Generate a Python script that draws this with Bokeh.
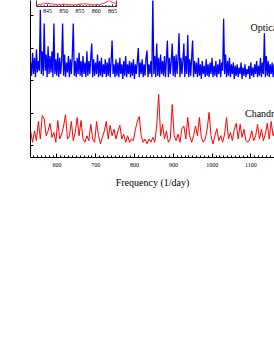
import numpy as np
from bokeh.plotting import figure
from bokeh.models import Range1d, SingleIntervalTicker, FixedTicker, Label
from bokeh.core.properties import value
from bokeh.embed import file_html
from bokeh.resources import INLINE

# ---------------- data ----------------
freq_start = 532.0          # 1/day
blue_step = 2.5             # frequency spacing of the optical periodogram
red_step = 5.0              # frequency spacing of the Chandra periodogram
optical_offset = 2.0        # optical trace is shifted up by this many power units

optical_power = [
    0.55, 0.15, 0.85, 0.2, 0.7, 0.1, 0.95, 0.25, 0.6, 0.3,
    2.18, 0.2, 0.9, 0.15, 1.75, 0.3, 0.8, 0.1, 1.05, 0.2,
    0.75, 0.25, 0.9, 0.1, 1.75, 0.2, 0.65, 0.15, 0.85, 0.1,
    0.7, 0.2, 0.6, 1.75, 0.15, 0.8, 0.1, 0.55, 0.25, 0.75,
    0.1, 0.65, 0.2, 0.8, 1.75, 0.15, 0.6, 0.1, 0.7, 0.2,
    0.85, 0.15, 0.6, 0.1, 0.75, 0.2, 0.55, 0.1, 0.9, 0.15,
    0.6, 0.2, 0.7, 1.14, 0.1, 0.65, 0.15, 0.55, 0.2, 0.8,
    0.1, 0.6, 0.15, 0.7, 0.1, 0.5, 0.2, 0.65, 0.1, 0.55,
    0.15, 0.7, 0.1, 0.6, 1.23, 0.2, 0.5, 0.1, 0.65, 0.15,
    0.55, 0.1, 0.7, 0.2, 0.5, 0.05, 0.6, 0.15, 0.75, 0.1,
    0.5, 0.2, 0.6, 0.1, 0.55, 0.15, 0.65, 0.05, 0.5, 0.2,
    0.6, 1.0, 0.1, 0.55, 0.2, 0.65, 0.1, 0.5, 0.15, 0.7,
    0.92, 0.1, 0.5, 0.2, 0.6, 0.1, 2.6, 0.2, 0.75, 0.1,
    1.14, 0.15, 0.7, 0.1, 0.8, 0.2, 0.6, 0.15, 0.75, 0.1,
    0.65, 1.23, 0.1, 0.7, 0.2, 0.6, 1.14, 0.15, 0.75, 0.1,
    0.8, 0.2, 0.65, 1.45, 0.1, 0.7, 0.2, 0.6, 1.14, 0.1,
    0.75, 0.2, 1.4, 0.1, 0.65, 0.15, 0.7, 1.23, 0.1, 0.6,
    0.2, 0.55, 0.1, 0.7, 0.15, 0.5, 0.05, 0.6, 0.2, 0.45,
    0.1, 0.65, 0.15, 0.5, 0.1, 0.55, 0.2, 0.7, 0.1, 0.45,
    0.15, 0.6, 0.1, 0.5, 0.2, 0.65, 0.1, 0.55, 0.3, 1.9,
    0.2, 0.8, 0.1, 0.6, 0.15, 0.7, 0.1, 0.5, 0.2, 0.55,
    0.05, 0.45, 0.15, 0.5, 0.1, 0.4, 0.2, 0.55, 0.05, 0.4,
    0.15, 0.5, 0.1, 0.35, 0.2, 0.45, 0.05, 0.55, 0.15, 0.4,
    0.1, 0.5, 0.2, 0.6, 0.1, 0.45, 0.15, 0.7, 0.1, 0.55,
    0.2, 1.45, 0.1, 0.75, 0.15, 0.6, 0.1, 0.5, 0.2, 0.55,
    0.1, 0.5, 0.2,
]

chandra_power = [
    0.45, 0.1, 0.45, 0.15, 0.74, 0.2, 0.92, 0.83, 0.3, 0.45,
    0.68, 0.25, 0.4, 0.1, 0.77, 0.2, 0.35, 0.6, 0.95, 0.2,
    0.3, 0.74, 0.15, 0.4, 0.86, 0.3, 0.77, 0.2, 0.1, 0.3,
    0.15, 0.65, 0.2, 0.1, 0.74, 0.3, 0.05, 0.25, 0.45, 0.74,
    0.2, 0.62, 0.3, 0.5, 0.2, 0.45, 0.62, 0.2, 0.35, 0.1,
    0.3, 0.1, 0.2, 0.15, 0.5, 0.74, 0.89, 0.3, 0.1, 0.2,
    0.05, 0.2, 0.1, 0.25, 0.1, 0.6, 1.57, 0.3, 0.65, 0.2,
    0.45, 0.1, 0.2, 1.26, 0.3, 0.15, 0.35, 0.1, 0.52, 0.6,
    0.2, 0.86, 0.3, 0.1, 0.3, 0.6, 0.3, 0.86, 0.25, 0.1,
    0.2, 0.5, 1.02, 0.3, 0.05, 0.3, 0.52, 0.15, 0.3, 0.1,
    0.35, 0.86, 0.2, 0.4, 0.15, 0.5, 0.68, 0.2, 0.65, 0.25,
    0.5, 0.15, 0.1, 0.2, 0.45, 0.15, 0.3, 0.65, 0.2, 0.5,
    0.15, 0.35, 0.68, 0.2, 0.74, 0.3, 0.5,
]

power_ticks = [0, 1, 2, 3, 4]
series_names = ["Optical", "Chandra"]

# inset (zoom around 845-865 1/day)
inset_ticks = [845, 850, 855, 860, 865]
inset_tick_labels = ["845", "850", "855", "860", "865"]
inset_minor_ticks = [842, 843, 844, 846, 847, 848, 849, 851, 852, 853, 854,
                     856, 857, 858, 859, 861, 862, 863, 864, 866]
inset_freq = [842, 843, 844, 845, 846, 847, 848, 849, 850, 851, 852, 853, 854,
              855, 856, 857, 858, 859, 860, 861, 862, 863, 864, 865, 866]
inset_power = [0.4, 0.5, 0.7, 0.8, 0.7, 0.5, 0.4, 0.45, 0.55, 0.5, 0.35, 0.3, 0.4,
               0.55, 0.65, 0.6, 0.45, 0.35, 0.3, 0.4, 0.7, 1.2, 1.8, 1.1, 0.8]
inset_range = (841.6, 866.2)

# ---------------- placement of the inset inside the main frame ----------------
inset_x0, inset_scale = 575.5, 8.375   # main-x of inset 845, main units per inset unit
inset_y0, inset_yscale = 4.30, 0.09    # main-y of inset power 0, main units per inset unit
inset_bottom = 4.277
inset_label_y = 4.138

def ix(f):
    return inset_x0 + (np.asarray(f, dtype=float) - inset_ticks[0]) * inset_scale

FONT = "Liberation Serif"

p = figure(width=274, height=210, output_backend="svg", toolbar_location=None,
           x_range=Range1d(531.7, 1160.6), y_range=Range1d(-0.369, 4.4615),
           min_border_left=30, min_border_right=0, min_border_top=0, min_border_bottom=53)
p.background_fill_color = "white"
p.border_fill_color = "white"
p.outline_line_color = None
p.grid.visible = False

blue_freq = freq_start + blue_step * np.arange(len(optical_power))
red_freq = freq_start + red_step * np.arange(len(chandra_power))

p.line(blue_freq, np.array(optical_power) + optical_offset, line_color="#0000ff", line_width=1.3)
p.line(red_freq, np.array(chandra_power), line_color="#ff0000", line_width=1.0)

# series names (clipped at the right edge of the frame, as in the original)
p.text(x=[1098.7, 1084.5], y=[3.63, 0.985], text=series_names,
       text_font=value(FONT), text_font_size="10px", text_color="black",
       text_align="left", text_baseline="middle")

# inset
ix0, ix1 = ix(inset_range[0]), ix(inset_range[1])
p.quad(left=[ix0], right=[ix1], bottom=[inset_bottom], top=[4.6],
       fill_color="white", line_color="black", line_width=0.8)
p.line(ix(inset_freq), inset_y0 + inset_yscale * np.array(inset_power),
       line_color="#ff0000", line_width=0.8)
p.segment(x0=ix(inset_ticks), y0=[inset_bottom] * len(inset_ticks),
          x1=ix(inset_ticks), y1=[inset_bottom + 0.07] * len(inset_ticks),
          line_color="black", line_width=0.8)
p.segment(x0=ix(inset_minor_ticks), y0=[inset_bottom] * len(inset_minor_ticks),
          x1=ix(inset_minor_ticks), y1=[inset_bottom + 0.04] * len(inset_minor_ticks),
          line_color="black", line_width=0.8)
p.text(x=ix(inset_ticks), y=[inset_label_y] * len(inset_ticks), text=inset_tick_labels,
       text_font=value(FONT), text_font_size="6px", text_color="black",
       text_align="center", text_baseline="middle")

# x axis
xa = p.xaxis[0]
xa.ticker = SingleIntervalTicker(interval=100, num_minor_ticks=10)
xa.major_tick_in = 4
xa.major_tick_out = 0
xa.minor_tick_in = 2
xa.minor_tick_out = 0
xa.axis_line_color = "black"
xa.major_tick_line_color = "black"
xa.minor_tick_line_color = "black"
xa.major_label_text_font = FONT
xa.major_label_text_font_size = "6px"
xa.major_label_text_color = "black"
xa.major_label_standoff = 5
xa.axis_label = "Frequency (1/day)"
xa.axis_label_text_font = FONT
xa.axis_label_text_font_size = "10px"
xa.axis_label_text_font_style = "normal"
xa.axis_label_text_color = "black"
xa.axis_label_standoff = 7

# y axis (ticks only, no numbers)
ya = p.yaxis[0]
ya.ticker = FixedTicker(ticks=power_ticks)
ya.major_tick_in = 3
ya.major_tick_out = 0
ya.minor_tick_line_color = None
ya.axis_line_color = "black"
ya.major_label_overrides = {t: "" for t in power_ticks}
ya.major_label_standoff = 0
ya.axis_label = None

p.add_layout(Label(x=495.6, y=2.86, text="Power", angle=np.pi / 2,
                   text_font=FONT, text_font_size="10px", text_color="black",
                   text_align="center", text_baseline="middle"))

open("out.html", "w").write(file_html(p, INLINE))
